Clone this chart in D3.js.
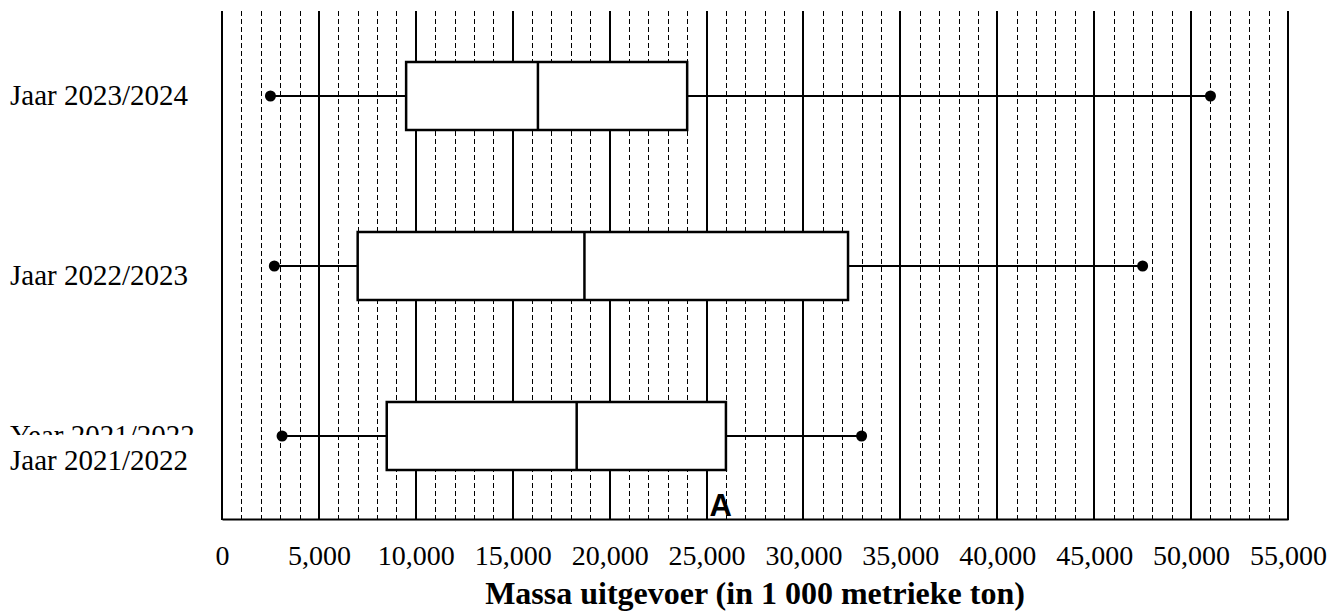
<!DOCTYPE html>
<html>
<head>
<meta charset="utf-8">
<script src="https://cdn.jsdelivr.net/npm/d3@7"></script>
<style>
  html, body { margin: 0; padding: 0; background: #fff; }
  svg { display: block; }
</style>
</head>
<body>
<svg id="chart" width="1342" height="614"></svg>
<script>
// ---- data ----
const categories = ["Jaar 2023/2024", "Jaar 2022/2023", "Jaar 2021/2022"];
const minValues    = [2500, 2700, 3100];
const q1Values     = [9500, 7000, 8500];
const medianValues = [16300, 18700, 18300];
const q3Values     = [24000, 32300, 26000];
const maxValues    = [51000, 47500, 33000];
const tickValues = [0, 5000, 10000, 15000, 20000, 25000, 30000, 35000, 40000, 45000, 50000, 55000];
const tickLabels = ["0", "5,000", "10,000", "15,000", "20,000", "25,000", "30,000", "35,000", "40,000", "45,000", "50,000", "55,000"];
const axisTitle = "Massa uitgevoer (in 1 000 metrieke ton)";
const ghostLabel = "Year 2021/2022";
const annotation = "A";
const annotationValue = 25000;

(function () {
// ---- layout ----
const svg = d3.select("#chart");
const pLeft = 222, pRight = 1288, pTop = 11, pBottom = 519;
const x = d3.scaleLinear().domain([0, 55000]).range([pLeft, pRight]);
const y = d3.scaleBand().domain(categories).range([pTop, 521]).paddingInner(0.6).paddingOuter(0.3);
const serif = "'Liberation Serif', 'Times New Roman', serif";
const labelShift = [9, 19, 34];

// minor dashed grid
const minor = d3.range(1000, 55000, 1000).filter(v => v % 5000 !== 0);
svg.append("g").selectAll("line").data(minor).join("line")
  .attr("x1", d => Math.round(x(d)) + 0.5).attr("x2", d => Math.round(x(d)) + 0.5)
  .attr("y1", pTop).attr("y2", pBottom)
  .attr("stroke", "#000").attr("stroke-width", 1).attr("stroke-dasharray", "5,3");

// major solid grid
svg.append("g").selectAll("line").data(tickValues).join("line")
  .attr("x1", d => Math.round(x(d))).attr("x2", d => Math.round(x(d)))
  .attr("y1", pTop).attr("y2", pBottom + 1)
  .attr("stroke", "#000").attr("stroke-width", 2);

// bottom axis
const axis = d3.axisBottom(x).tickValues(tickValues).tickFormat((d, i) => tickLabels[i]).tickSize(0).tickPadding(0);
const gAxis = svg.append("g").attr("transform", `translate(0,${pBottom})`).call(axis);
gAxis.select(".domain").attr("stroke", "#000").attr("stroke-width", 2);
gAxis.selectAll("text")
  .attr("y", 46).attr("dy", null)
  .attr("font-family", serif).attr("font-size", 28).attr("fill", "#000");

// axis title
svg.append("text")
  .attr("x", (pLeft + pRight) / 2).attr("y", 604)
  .attr("text-anchor", "middle")
  .attr("font-family", serif).attr("font-size", 32).attr("font-weight", "bold")
  .attr("fill", "#000")
  .text(axisTitle);

// ghost clipped label (only its top sliver is visible)
const clip = svg.append("defs").append("clipPath").attr("id", "ghostClip");
clip.append("rect").attr("x", 0).attr("y", 400).attr("width", 220).attr("height", 35);
svg.append("text")
  .attr("x", 10).attr("y", 445)
  .attr("clip-path", "url(#ghostClip)")
  .attr("font-family", serif).attr("font-size", 29).attr("fill", "#000")
  .text(ghostLabel);

// category labels
svg.append("g").selectAll("text").data(categories).join("text")
  .attr("x", 10)
  .attr("y", (d, i) => y(d) + y.bandwidth() / 2 + labelShift[i])
  .attr("font-family", serif).attr("font-size", 29).attr("fill", "#000")
  .text(d => d);

// box plots
const rows = categories.map((c, i) => ({
  c, min: minValues[i], q1: q1Values[i], med: medianValues[i], q3: q3Values[i], max: maxValues[i]
}));
const g = svg.append("g").selectAll("g").data(rows).join("g");

g.append("line")
  .attr("x1", d => x(d.min)).attr("x2", d => x(d.max))
  .attr("y1", d => y(d.c) + y.bandwidth() / 2).attr("y2", d => y(d.c) + y.bandwidth() / 2)
  .attr("stroke", "#000").attr("stroke-width", 2);

g.append("rect")
  .attr("x", d => x(d.q1)).attr("width", d => x(d.q3) - x(d.q1))
  .attr("y", d => y(d.c)).attr("height", y.bandwidth())
  .attr("fill", "#fff").attr("stroke", "#000").attr("stroke-width", 2.5);

g.append("line")
  .attr("x1", d => x(d.med)).attr("x2", d => x(d.med))
  .attr("y1", d => y(d.c)).attr("y2", d => y(d.c) + y.bandwidth())
  .attr("stroke", "#000").attr("stroke-width", 2.5);

g.append("circle")
  .attr("cx", d => x(d.min)).attr("cy", d => y(d.c) + y.bandwidth() / 2)
  .attr("r", 5.5).attr("fill", "#000");
g.append("circle")
  .attr("cx", d => x(d.max)).attr("cy", d => y(d.c) + y.bandwidth() / 2)
  .attr("r", 5.5).attr("fill", "#000");

// annotation
svg.append("text")
  .attr("x", x(annotationValue) + 3).attr("y", 516)
  .attr("font-family", "'Liberation Sans', Arial, sans-serif")
  .attr("font-size", 31).attr("font-weight", "bold").attr("fill", "#000")
  .text(annotation);
})();
</script>
</body>
</html>
